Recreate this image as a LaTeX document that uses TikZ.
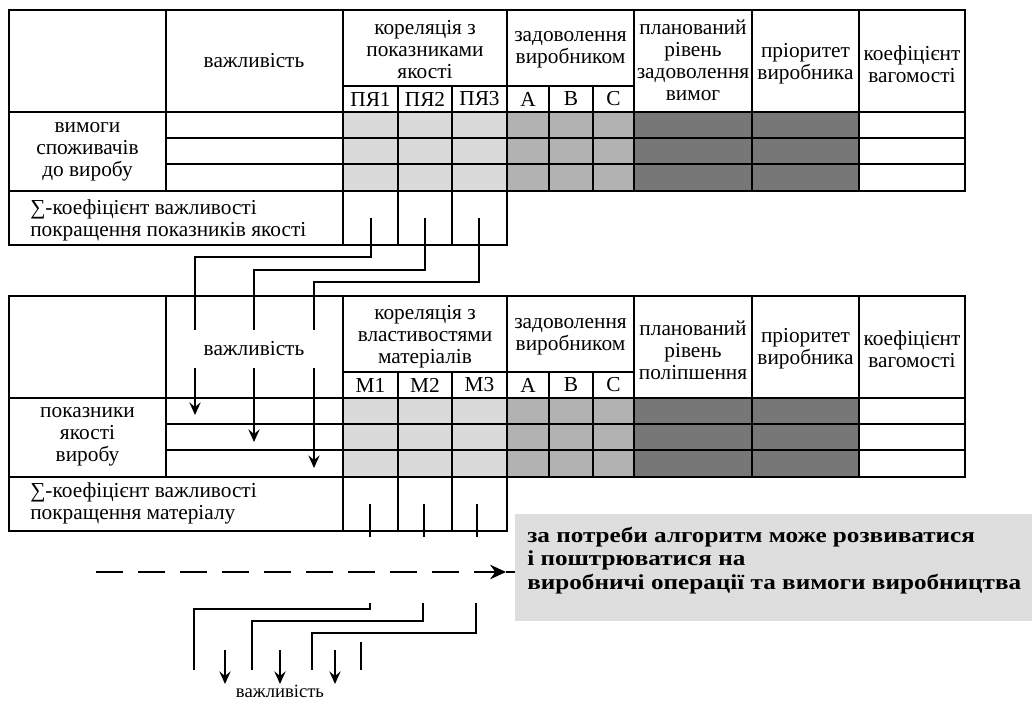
\documentclass[tikz,border=0pt]{standalone}
\usepackage{fontspec}
\setmainfont{Liberation Serif}
\newfontfamily\boxfont[FakeStretch=1.18]{Liberation Serif}
\usetikzlibrary{arrows.meta}
\definecolor{cLight}{HTML}{DADADA}
\definecolor{cMid}{HTML}{B2B2B2}
\definecolor{cDark}{HTML}{777777}
\definecolor{cBox}{HTML}{DEDEDE}
\begin{document}
\begin{tikzpicture}[x=0.75pt,y=-0.75pt,
  gridline/.style={draw=black, line width=1.1pt},
  txt/.style={font=\fontsize{16}{16.5}\selectfont, align=center, inner sep=0pt},
  ltxt/.style={font=\fontsize{16}{16.5}\selectfont, align=left, inner sep=0pt, anchor=west},
  conn/.style={draw=black, line width=0.95pt},
  arr/.style={conn, -{Stealth[length=9.5pt,width=8.5pt,inset=3.5pt]}},
  dashconn/.style={conn, dash pattern=on 20.25pt off 11.25pt, -{Stealth[length=12pt,width=11pt,inset=4pt]}}]
\useasboundingbox (0,0) rectangle (1032,702);

% ---------- table grids ----------
\foreach \dy in {0,286}{
\begin{scope}[shift={(0,\dy)}]
  \fill[cLight] (343,112) rectangle (507,191);
  \fill[cMid] (507,112) rectangle (634,191);
  \fill[cDark] (634,112) rectangle (859,191);
  \draw[gridline] (9,10) rectangle (965,191);
  \draw[gridline] (9,191) -- (9,245) -- (507,245) -- (507,191);
  \draw[gridline] (166,10) -- (166,191);
  \draw[gridline] (343,10) -- (343,245);
  \draw[gridline] (398,86) -- (398,245);
  \draw[gridline] (452,86) -- (452,245);
  \draw[gridline] (507,10) -- (507,191);
  \draw[gridline] (549,86) -- (549,191);
  \draw[gridline] (593,86) -- (593,191);
  \draw[gridline] (634,10) -- (634,191);
  \draw[gridline] (752,10) -- (752,191);
  \draw[gridline] (859,10) -- (859,191);
  \draw[gridline] (343,86) -- (634,86);
  \draw[gridline] (9,112) -- (965,112);
  \draw[gridline] (166,138) -- (965,138);
  \draw[gridline] (166,164) -- (965,164);
\end{scope}}

% ---------- top table texts ----------
\node[txt] (timp) at (254,61) {важливість};
\node[txt] (tcor) at (425,50) {кореляція з\\показниками\\якості};
\node[txt] (tp1) at (370.5,99) {ПЯ1};
\node[txt] (tp2) at (425,99) {ПЯ2};
\node[txt] (tp3) at (479.5,99) {ПЯ3};
\node[txt] (tsat) at (570.5,50) {задоволення\\виробником};
\node[txt] (ta) at (528,99) {A};
\node[txt] (tb) at (571,99) {B};
\node[txt] (tc) at (613.5,99) {C};
\node[txt] (tplan) at (693,60) {планований\\рівень\\задоволення\\вимог};
\node[txt] (tprio) at (805.5,64) {пріоритет\\виробника};
\node[txt] (tcoef) at (912,64) {коефіцієнт\\вагомості};
\node[txt] (treq) at (87.5,151.5) {вимоги\\споживачів\\до виробу};
\node[ltxt] (tsum) at (30,220) {∑-коефіцієнт важливості\\покращення показників якості};

% ---------- bottom table texts ----------
\node[txt] (bimp) at (254,349) {важливість};
\node[txt] (bcor) at (425,337) {кореляція з\\властивостями\\матеріалів};
\node[txt] (bm1) at (370.5,385) {M1};
\node[txt] (bm2) at (425,385) {M2};
\node[txt] (bm3) at (479.5,385) {M3};
\node[txt] (bsat) at (570.5,337) {задоволення\\виробником};
\node[txt] (ba) at (528,385) {A};
\node[txt] (bb) at (571,385) {B};
\node[txt] (bc) at (613.5,385) {C};
\node[txt] (bplan) at (693,350) {планований\\рівень\\поліпшення};
\node[txt] (bprio) at (805.5,349) {пріоритет\\виробника};
\node[txt] (bcoef) at (912,349) {коефіцієнт\\вагомості};
\node[txt] (bind) at (87.5,437) {показники\\якості\\виробу};
\node[ltxt] (bsum) at (30,503) {∑-коефіцієнт важливості\\покращення матеріалу};

% ---------- connectors top -> bottom ----------
\coordinate (s1) at (371,218);
\coordinate (s2) at (425,218);
\coordinate (s3) at (479,218);
\coordinate (g1a) at (195,330); \coordinate (g1b) at (195,368); \coordinate (e1) at (195,415);
\coordinate (g2a) at (254,330); \coordinate (g2b) at (254,368); \coordinate (e2) at (254,442);
\coordinate (g3a) at (314,330); \coordinate (g3b) at (314,368); \coordinate (e3) at (314,468);
\draw[conn] (s1) |- (195,257) -- (g1a);
\draw[conn] (s2) |- (254,270) -- (g2a);
\draw[conn] (s3) |- (314,282) -- (g3a);
\draw[arr] (g1b) -- (e1);
\draw[arr] (g2b) -- (e2);
\draw[arr] (g3b) -- (e3);

% ---------- bottom stubs ----------
\coordinate (u1) at (370,504); \coordinate (v1) at (370,537);
\coordinate (u2) at (424,504); \coordinate (v2) at (424,537);
\coordinate (u3) at (477,504); \coordinate (v3) at (477,537);
\draw[conn] (u1) -- (v1);
\draw[conn] (u2) -- (v2);
\draw[conn] (u3) -- (v3);

% ---------- gray note box ----------
\node[fill=cBox, anchor=north west, minimum width=387.75pt, minimum height=80.25pt, inner sep=0pt] (note) at (515,514) {};
\node[anchor=west, align=left, inner sep=0pt, font=\boxfont\bfseries\fontsize{16}{17.6}\selectfont] (notetxt) at (527,560.5)
  {за потреби алгоритм може розвиватися\\і поштрюватися на\\виробничі операції та вимоги виробництва};

\coordinate (dstart) at (96,572);
\coordinate (dtip) at (506,572);
\draw[dashconn] (dstart) -- (dtip);
\draw[conn] (dtip) -- (note.west |- dtip);

% ---------- lower connectors ----------
\coordinate (w1) at (370,603); \coordinate (f1) at (194,670);
\coordinate (w2) at (423,603); \coordinate (f2) at (252,670);
\coordinate (w3) at (476,603); \coordinate (f3) at (312,670);
\draw[conn] (w1) -- (370,609) -| (f1);
\draw[conn] (w2) -- (423,621) -| (f2);
\draw[conn] (w3) -- (476,633) -| (f3);
\coordinate (k1) at (361,642); \coordinate (k2) at (361,670);
\draw[conn] (k1) -- (k2);
\coordinate (a1) at (225,650); \coordinate (z1) at (225,684);
\coordinate (a2) at (280,650); \coordinate (z2) at (280,684);
\coordinate (a3) at (335,650); \coordinate (z3) at (335,684);
\draw[arr] (a1) -- (z1);
\draw[arr] (a2) -- (z2);
\draw[arr] (a3) -- (z3);
\node[txt, font=\fontsize{14}{15}\selectfont] (limp) at (280,691) {важливість};
\end{tikzpicture}
\end{document}
